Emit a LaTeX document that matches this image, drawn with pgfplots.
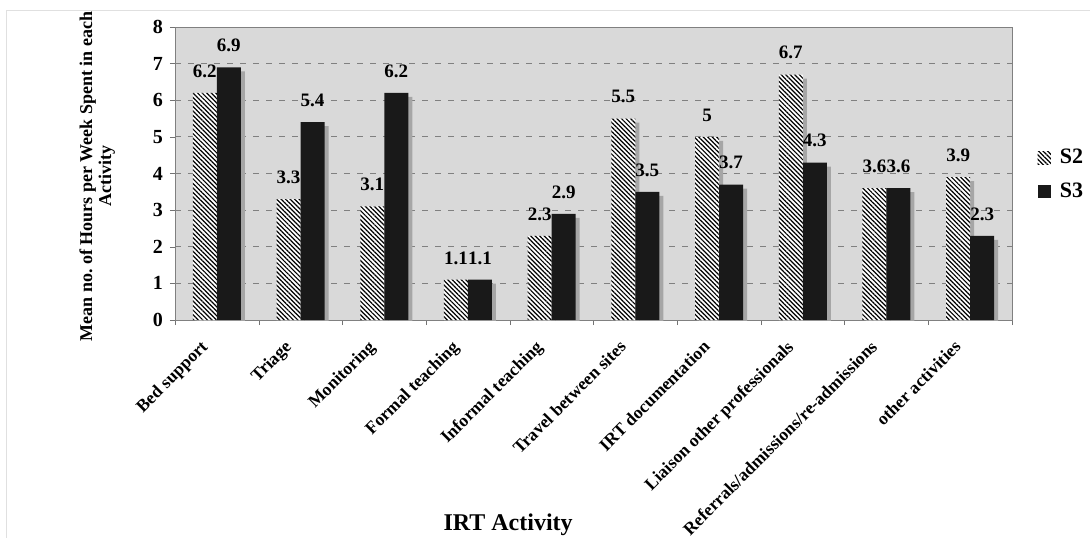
\documentclass[border=0pt]{standalone}
\usepackage{fontspec}
\setmainfont{Liberation Serif}
\usepackage{pgfplots}
\pgfplotsset{compat=1.18}
\usetikzlibrary{patterns.meta}
\pgfplotsset{/pgf/number format/assume math mode=true}
\frenchspacing
\begin{document}
\begin{tikzpicture}
\useasboundingbox (-87.5pt,-109pt) rectangle (457.5pt,160pt);
\draw[black!12, line width=0.5pt] (-84pt,-109pt) -- (-84pt,155pt) -- (457.5pt,155pt);
\begin{axis}[
  at={(0,0)}, anchor=south west,
  scale only axis, width=418.5pt, height=146.5pt,
  ybar, bar width=12pt,
  xmin=-0.5, xmax=9.5, ymin=0, ymax=8,
  xtick={0,...,9},
  xticklabels={Bed support, Triage, Monitoring, Formal teaching, Informal teaching, Travel between sites, IRT documentation, Liaison other professionals, Referrals/admissions/re-admissions, other activities},
  minor xtick={-0.5,0.5,...,9.5},
  major x tick style={draw=none},
  ytick={0,...,8},
  xtick pos=left, ytick pos=left,
  tick align=outside,
  major tick length=2.5pt, minor tick length=2.5pt,
  axis background/.style={fill=black!15},
  axis line style={black!50},
  tick style={black!55},
  ymajorgrids,
  major grid style={black!50, dash pattern=on 3pt off 3.5pt},
  y tick label style={font=\bfseries\fontsize{10}{11}\selectfont},
  x tick label style={xshift=-8.5pt, yshift=-5.5pt, rotate=45, anchor=north east, font=\bfseries\fontsize{8.8}{10}\selectfont, inner sep=1pt},
  xlabel={IRT Activity},
  xlabel style={at={(axis description cs:0.398,-0.717)}, anchor=base, font=\bfseries\fontsize{12}{14}\selectfont},
  ylabel={Mean no.\ of Hours per Week Spent in each\\Activity},
  ylabel style={at={(axis description cs:-0.093,0.49)}, anchor=center, align=center, font=\bfseries\fontsize{9}{9.5}\selectfont},
  every node near coord/.append style={font=\bfseries\fontsize{9.5}{10}\selectfont, anchor=south, inner sep=0pt, yshift=7.5pt, black},
  legend style={at={(axis description cs:1.023,0.495)}, anchor=west, draw=none, fill=none, font=\bfseries\fontsize{11}{12}\selectfont, row sep=4pt},
  legend image code/.code={\fill[#1] (0pt,-3.3pt) rectangle (6.6pt,3.3pt);},
  legend cell align=left,
  legend style={nodes={inner xsep=4.5pt}},
]
% shadows
\addplot[forget plot, fill=black!35, draw=none, bar shift=-4pt, yshift=-2pt] coordinates {(0,6.2) (1,3.3) (2,3.1) (3,1.1) (4,2.3) (5,5.5) (6,5) (7,6.7) (8,3.6) (9,3.9)};
\addplot[forget plot, fill=black!35, draw=none, bar shift=8pt, yshift=-2pt] coordinates {(0,6.9) (1,5.4) (2,6.2) (3,1.1) (4,2.9) (5,3.5) (6,3.7) (7,4.3) (8,3.6) (9,2.3)};
% S2
\addplot[fill=white, draw=none, postaction={pattern={Lines[angle=-45,distance=1.6pt,line width=0.6pt]},pattern color=black}, bar shift=-6pt, nodes near coords] coordinates {(0,6.2) (1,3.3) (2,3.1) (3,1.1) (4,2.3) (5,5.5) (6,5) (7,6.7) (8,3.6) (9,3.9)};
\addlegendentry{S2}
% S3
\addplot[fill=black!90, draw=none, bar shift=6pt, nodes near coords] coordinates {(0,6.9) (1,5.4) (2,6.2) (3,1.1) (4,2.9) (5,3.5) (6,3.7) (7,4.3) (8,3.6) (9,2.3)};
\addlegendentry{S3}
\end{axis}
\end{tikzpicture}
\end{document}
